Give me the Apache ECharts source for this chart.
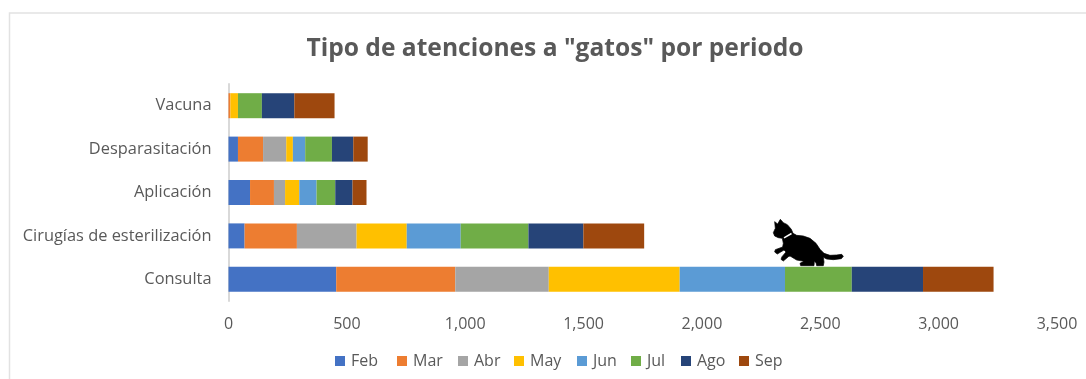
<!DOCTYPE html>
<html><head><meta charset="utf-8">
<style>html,body{margin:0;padding:0;background:#fff}#c{width:1086px;height:379px}</style>
<script src="https://cdn.jsdelivr.net/npm/echarts@6/dist/echarts.min.js"></script>
</head><body><div id="c"></div>
<script>
const categories = ['Consulta','Cirugías de esterilización','Aplicación','Desparasitación','Vacuna'];
const months = ['Feb','Mar','Abr','May','Jun','Jul','Ago','Sep'];
const colors = ['#4472c4','#ed7d31','#a5a5a5','#ffc000','#5b9bd5','#70ad47','#264478','#9e480e'];
const Feb = [455, 68, 91, 40, 0];
const Mar = [503, 221, 101, 106, 8];
const Abr = [395, 252, 47, 98, 0];
const May = [553, 212, 60, 28, 32];
const Jun = [445, 228, 73, 52, 0];
const Jul = [282, 286, 79, 113, 101];
const Ago = [301, 232, 73, 90, 137];
const Sep = [298, 257, 59, 61, 170];
const seriesValues = [Feb, Mar, Abr, May, Jun, Jul, Ago, Sep];
const legendLefts = [335, 397, 458, 514, 577, 631, 681, 739];
const font = '"Open Sans"';
const catOutline = [[224,65],[233,72],[241,58],[250,68],[262,74],[274,88],[279,100],[290,106],[310,108],[330,115],[348,130],[360,148],[372,160],[390,166],[410,165],[425,163],[430,169],[424,176],[400,179],[380,177],[370,172],[372,186],[370,197],[350,197],[348,188],[343,184],[342,197],[302,197],[300,190],[312,184],[290,180],[270,168],[265,170],[250,183],[243,178],[246,170],[258,156],[252,150],[232,162],[224,156],[226,149],[248,141],[250,130],[247,115],[235,113],[224,108],[220,98],[226,85]];
const chart = echarts.init(document.getElementById('c'), null, {renderer:'canvas'});
chart.setOption({
  animation:false,
  color:colors,
  title:{text:'Tipo de atenciones a "gatos" por periodo',left:550,top:31,textAlign:'center',
    textStyle:{fontFamily:font,fontWeight:'bold',fontSize:24.6,color:'#595959'}},
  legend:months.map((m,i)=>({left:legendLefts[i]-5,top:348,itemWidth:10,itemHeight:10,itemGap:0,icon:'rect',data:[m],
    textStyle:{fontFamily:font,fontSize:16,color:'#595959',padding:[0,0,0,1]}})),
  grid:{left:228.5,right:29,top:84,bottom:78,containLabel:false},
  xAxis:{type:'value',min:0,max:3500,interval:500,splitLine:{show:false},axisLine:{show:false},axisTick:{show:false},
    axisLabel:{margin:15,fontFamily:font,fontSize:16,color:'#595959',formatter:v=>v.toLocaleString('en-US'),showMinLabel:true,showMaxLabel:true}},
  yAxis:{type:'category',data:categories,axisTick:{show:false},
    axisLine:{show:true,lineStyle:{color:'#d9d9d9',width:2}},
    axisLabel:{margin:17,fontFamily:font,fontSize:16.4,color:'#595959',padding:[2,0,0,0]}},
  series:months.map((m,i)=>({name:m,type:'bar',stack:'t',barWidth:25,data:seriesValues[i]})),
  graphic:[
    {type:'polyline',silent:true,shape:{points:[[9.5,379],[9.5,13],[1086,13]]},style:{stroke:'#e2e2e2',fill:null,lineWidth:1.5}},
    {type:'polygon',silent:true,z:100,shape:{points:catOutline.map(p=>[700+p[0]/3,200+p[1]/3])},style:{fill:'#000',stroke:'#000',lineWidth:0.7}},
    {type:'line',silent:true,z:101,shape:{x1:784,y1:237.8,x2:791.5,y2:233.5},style:{stroke:'#fff',lineWidth:1.5}}
  ]
});
</script></body></html>
